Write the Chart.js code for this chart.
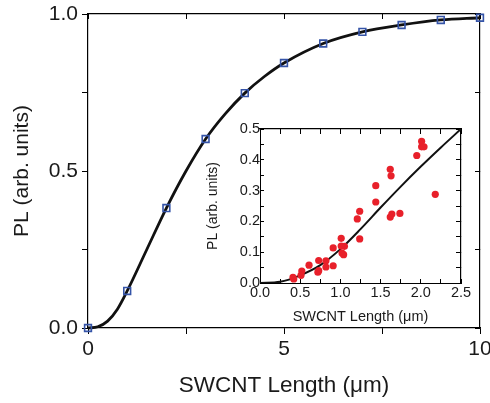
<!DOCTYPE html>
<html>
<head>
<meta charset="utf-8">
<script src="https://cdn.jsdelivr.net/npm/chart.js@4"></script>
<style>
  html, body { margin: 0; padding: 0; background: #fff; }
  #wrap { position: relative; width: 490px; height: 403px; }
  #main { position: absolute; left: 0; top: 0; }
  #inset { position: absolute; left: 195px; top: 115px; }
</style>
</head>
<body>
<div id="wrap">
  <canvas id="main" width="490" height="403"></canvas>
  <canvas id="inset" width="285" height="215"></canvas>
</div>
<script>
// ── Data ──
const mainLen   = [0, 1, 2, 3, 4, 5, 6, 7, 8, 9, 10];
const mainPL    = [0, 0.118, 0.382, 0.602, 0.748, 0.844, 0.906, 0.943, 0.965, 0.981, 0.988];
const fitLen    = [0, 0.25, 0.5, 0.75, 1, 1.5, 2, 2.5, 3, 3.5, 4, 4.5, 5, 6, 7, 8, 9, 10];
const fitPL     = [0, 0.004, 0.022, 0.06, 0.118, 0.25, 0.382, 0.5, 0.602, 0.682, 0.748, 0.801, 0.844, 0.906, 0.943, 0.965, 0.981, 0.988];

const insetLen  = [0.41, 0.42, 0.52, 0.51, 0.61, 0.73, 0.73, 0.72, 0.82, 0.82, 0.91, 0.91, 1.01, 1.02, 1.04, 1.05, 1.01, 1.21, 1.24, 1.24, 1.44, 1.44, 1.62, 1.63, 1.62, 1.64, 1.74, 1.95, 2.01, 2.01, 2.04, 2.18];
const insetPL   = [0.018, 0.013, 0.039, 0.025, 0.058, 0.073, 0.040, 0.035, 0.072, 0.052, 0.056, 0.114, 0.145, 0.097, 0.092, 0.119, 0.12, 0.208, 0.233, 0.143, 0.263, 0.316, 0.369, 0.348, 0.214, 0.224, 0.226, 0.414, 0.46, 0.442, 0.442, 0.288];
const insetFitX = [0, 0.25, 0.5, 0.75, 1.0, 1.25, 1.5, 1.75, 2.0, 2.25, 2.5];
const insetFitY = [0, 0.004, 0.025, 0.058, 0.11, 0.175, 0.245, 0.313, 0.378, 0.44, 0.5];

const FONT = 'Liberation Sans, Arial, sans-serif';
const txt = '#1a1a1a';
const pts = (xs, ys) => xs.map((x, i) => ({ x, y: ys[i] }));

// ── Axis helpers ──
function sideAxis(pos, min, max, step) {
  return {
    type: 'linear', position: pos, min, max,
    ticks: { display: false, stepSize: step },
    grid: { drawOnChartArea: false, drawTicks: true, tickLength: -5, color: '#000', lineWidth: 1 },
    border: { display: true, color: '#000', width: 1.2 },
    afterFit: s => { if (pos === 'top') s.height = 0; else s.width = 0; }
  };
}

// ── Main chart ──
new Chart(document.getElementById('main').getContext('2d'), {
  type: 'scatter',
  data: { datasets: [
    { label: 'fit', data: pts(fitLen, fitPL), showLine: true, borderColor: '#111', borderWidth: 2.8, pointRadius: 0, cubicInterpolationMode: 'monotone', order: 2 },
    { label: 'sim', data: pts(mainLen, mainPL), pointStyle: 'rect', pointRadius: 4.8, borderColor: '#3554a8', backgroundColor: 'rgba(255,255,255,0)', borderWidth: 1.6, order: 1 }
  ]},
  options: {
    responsive: false, animation: false, clip: false,
    layout: { padding: { left: 0, right: 10, top: 14, bottom: 0 } },
    plugins: { legend: { display: false }, tooltip: { enabled: false } },
    scales: {
      x: {
        type: 'linear', position: 'bottom', min: 0, max: 10,
        ticks: { stepSize: 2.5, autoSkip: false, maxRotation: 0, color: txt, font: { family: FONT, size: 21 }, padding: 3,
                 callback: v => (v % 5 === 0 ? String(v) : '') },
        grid: { drawOnChartArea: false, tickLength: 6, color: '#000' },
        border: { color: '#000', width: 1.2 },
        title: { display: true, text: 'SWCNT Length (\u03bcm)', color: txt, font: { family: FONT, size: 22.5 }, padding: { top: 6 } },
        afterFit: s => { s.height = 75; s.paddingRight = 10; s.paddingLeft = 0; }
      },
      y: {
        type: 'linear', position: 'left', min: 0, max: 1,
        ticks: { stepSize: 0.25, autoSkip: false, color: txt, font: { family: FONT, size: 21 }, padding: 4,
                 callback: v => (Math.round(v * 100) % 50 === 0 ? v.toFixed(1) : '') },
        grid: { drawOnChartArea: false, tickLength: 6, color: '#000' },
        border: { color: '#000', width: 1.2 },
        title: { display: true, text: 'PL (arb. units)', color: txt, font: { family: FONT, size: 21 }, padding: { top: 10, bottom: 2 } },
        afterFit: s => { s.width = 88; s.paddingTop = 0; s.paddingBottom = 0; }
      },
      x2: sideAxis('top', 0, 10, 2.5),
      y2: sideAxis('right', 0, 1, 0.25)
    }
  }
});

// ── Inset chart ──
new Chart(document.getElementById('inset').getContext('2d'), {
  type: 'scatter',
  data: { datasets: [
    { label: 'fit', data: pts(insetFitX, insetFitY), showLine: true, borderColor: '#111', borderWidth: 2, pointRadius: 0, cubicInterpolationMode: 'monotone', order: 2 },
    { label: 'exp', data: pts(insetLen, insetPL), pointRadius: 3.6, backgroundColor: '#e8202a', borderWidth: 0, order: 1 }
  ]},
  options: {
    responsive: false, animation: false,
    layout: { padding: { left: 0, right: 19, top: 14, bottom: 0 } },
    plugins: { legend: { display: false }, tooltip: { enabled: false } },
    scales: {
      x: {
        type: 'linear', position: 'bottom', min: 0, max: 2.5,
        ticks: { stepSize: 0.25, autoSkip: false, maxRotation: 0, color: txt, font: { family: FONT, size: 14.5 }, padding: 5,
                 callback: v => (Math.round(v * 100) % 50 === 0 ? v.toFixed(1) : '') },
        grid: { drawOnChartArea: false, tickLength: -4, color: '#000' },
        border: { color: '#000', width: 1 },
        title: { display: true, text: 'SWCNT Length (\u03bcm)', color: txt, font: { family: FONT, size: 14.5 }, padding: { top: 1 } },
        afterFit: s => { s.height = 47; s.paddingRight = 19; s.paddingLeft = 0; }
      },
      y: {
        type: 'linear', position: 'left', min: 0, max: 0.5,
        ticks: { stepSize: 0.05, autoSkip: false, color: txt, font: { family: FONT, size: 14.5 }, padding: 4,
                 callback: v => (Math.round(v * 100) % 10 === 0 ? v.toFixed(1) : '') },
        grid: { drawOnChartArea: false, tickLength: -4, color: '#000' },
        border: { color: '#000', width: 1 },
        title: { display: true, text: 'PL (arb. units)', color: txt, font: { family: FONT, size: 14 }, padding: { top: 10, bottom: 2 } },
        afterFit: s => { s.width = 65; }
      },
      x2: sideAxis('top', 0, 2.5, 0.25),
      y2: sideAxis('right', 0, 0.5, 0.05)
    }
  }
});
</script>
</body>
</html>
